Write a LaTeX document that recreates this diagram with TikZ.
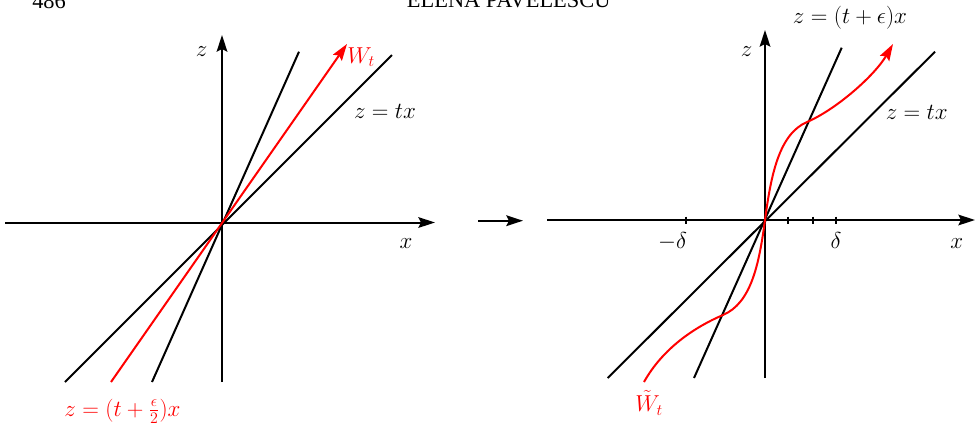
\documentclass[tikz,border=0pt]{standalone}
\usepackage{fontspec}
\newfontfamily\hdfont{Liberation Serif}
\usetikzlibrary{arrows.meta}
\begin{document}
\begin{tikzpicture}[x=0.75pt,y=-0.75pt,
  ln/.style={line width=1.5pt},
  rln/.style={line width=1.5pt, red},
  tip/.style={-{Stealth[length=12.5pt,width=8pt,inset=2pt]}},
  lbl/.style={inner sep=0pt, font=\fontsize{16.5}{20}\selectfont},
  hd/.style={inner sep=0pt, font=\hdfont\fontsize{16.8}{19}\selectfont, anchor=base west}]
\useasboundingbox (0,0) rectangle (975,426);
\fill[white] (0,0) rectangle (975,426);
\begin{scope}
\clip (0,0) rectangle (975,426);
% header (cut off at the top)
\node[hd] (pg) at (32,8.3) {486};
\node[hd] (hdr) at (406.7,7.3) {ELENA PAVELESCU};

% ---------- left panel ----------
\coordinate (xl0) at (5,222.5);   \coordinate (xl1) at (435,222.5);
\coordinate (zl0) at (222,382);   \coordinate (zl1) at (222,35);
\coordinate (sA) at (152,382);    \coordinate (sB) at (299,51.7);
\coordinate (tA) at (65,382);     \coordinate (tB) at (392,55);
\coordinate (rA) at (111,382);    \coordinate (rB) at (347,44);
\draw[ln,tip] (xl0) -- (xl1);
\draw[ln,tip] (zl0) -- (zl1);
\draw[ln] (sA) -- (sB);
\draw[ln] (tA) -- (tB);
\draw[rln,tip] (rA) -- (rB);
\node[lbl,anchor=base] (zL) at (201.7,56.5) {$z$};
\node[lbl,anchor=base] (xL) at (406,248) {$x$};
\node[lbl,anchor=base] (tL) at (385,118.3) {$z=tx$};
\node[lbl,red,anchor=base west] (WL) at (347,63.3) {$W_t$};
\node[lbl,red,anchor=base] (eqL) at (122.5,416) {$z=(t+\frac{\epsilon}{2})x$};

% ---------- middle arrow ----------
\coordinate (ma) at (478,220.7); \coordinate (mb) at (523,220.7);
\draw[ln,tip] (ma) -- (mb);

% ---------- right panel ----------
\coordinate (xr0) at (547,220);   \coordinate (xr1) at (975,220);
\coordinate (zr0) at (765,378);   \coordinate (zr1) at (765,30);
\coordinate (s2A) at (694,378);   \coordinate (s2B) at (841.7,47.7);
\coordinate (t2A) at (607.7,378); \coordinate (t2B) at (935,51.7);
\draw[ln,tip] (xr0) -- (xr1);
\draw[ln,tip] (zr0) -- (zr1);
\draw[ln] (s2A) -- (s2B);
\draw[ln] (t2A) -- (t2B);
\foreach \tx in {686,788,813,836}{
  \draw[ln] (\tx,216.5) -- (\tx,223.5);
}
\coordinate (P0) at (644,382);
\coordinate (P1) at (723,315);
\coordinate (P2) at (765,220);
\coordinate (P3) at (807,122);
\coordinate (P4) at (893,44);
\draw[rln,tip] (P0) .. controls (663,348) and (695,327) .. (P1)
  .. controls (751,303) and (759,265) .. (P2)
  .. controls (771,175) and (779,134) .. (P3)
  .. controls (837,109) and (875,75) .. (P4);
\node[lbl,anchor=base] (zR) at (746.7,56.5) {$z$};
\node[lbl,anchor=base] (eqR) at (850,23.3) {$z=(t+\epsilon)x$};
\node[lbl,anchor=base] (tR) at (916.7,119.3) {$z=tx$};
\node[lbl,anchor=base] (mdR) at (672.5,248.3) {$-\delta$};
\node[lbl,anchor=base] (dR) at (836,248.3) {$\delta$};
\node[lbl,anchor=base] (xR) at (956.7,248.3) {$x$};
\node[lbl,red,anchor=base west] (WR) at (635,411.7) {$\tilde W_t$};
\end{scope}
\end{tikzpicture}
\end{document}
